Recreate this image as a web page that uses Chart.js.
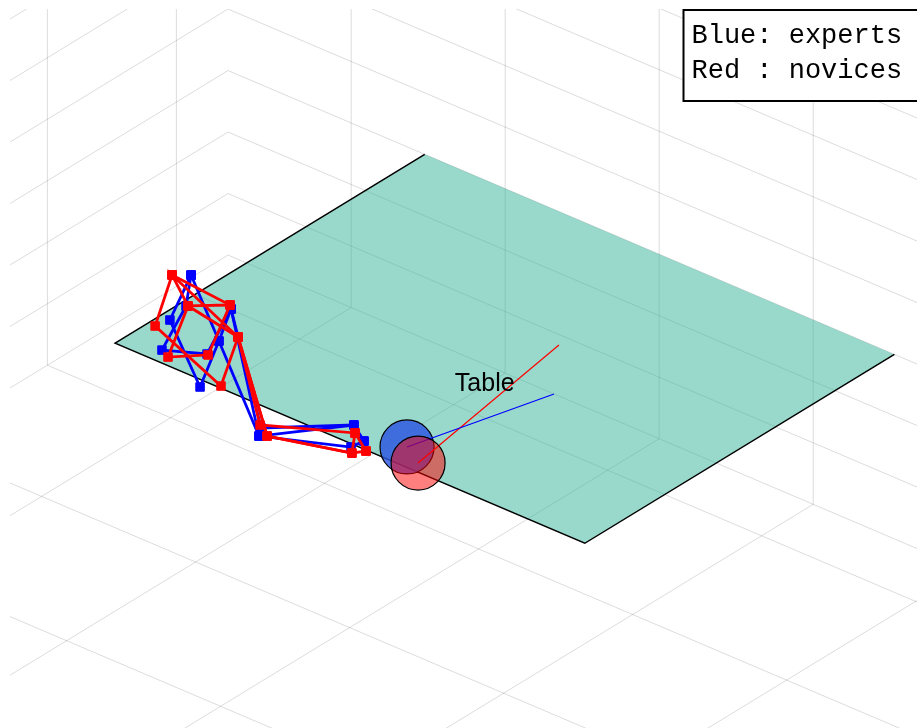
<!DOCTYPE html>
<html>
<head>
<meta charset="utf-8">
<title>Reach paths</title>
<script src="https://cdn.jsdelivr.net/npm/chart.js@4.4.1/dist/chart.umd.min.js"></script>
<style>
  html, body { margin: 0; padding: 0; background: #fff; }
  #scene { display: block; }
</style>
</head>
<body>
<canvas id="scene" width="917" height="728"></canvas>
<script>
// axis ticks and box limits
const xTicks = [1, 2, 3, 4, 5];
const yTicks = [1, 2, 3, 4, 5];
const zTicks = [0, 1, 2, 3, 4, 5, 6, 7, 8, 9];
const xLimits = [0.2, 6];
const yLimits = [0.6, 6];
const zLimits = [0, 9];

// table top
const tableX = [1.67, 4.72];
const tableY = [0.83, 3.23];
const tableZ = 3.5;
const tableLabelAt = [3.385, 2.412, 3.5];

// hand paths, [x, y, z]
const expertTrial1 = [
  [1.726, 2.708, 4], [1.927, 3.112, 4], [2.462, 3.517, 4], [2.246, 3.113, 4],
  [2.092, 2.835, 4], [2.837, 3.491, 3.7], [3.173, 3.173, 3.7], [3.312, 3.261, 3.7]
];
const expertTrial2 = [
  [1.726, 2.708, 4], [1.901, 2.956, 4], [2.085, 3.362, 4], [2.282, 3.248, 4],
  [2.092, 2.835, 4], [2.879, 3.558, 3.7], [3.300, 3.347, 3.7], [3.312, 3.261, 3.7]
];
const expertTrial3 = [
  [1.726, 2.708, 4], [2.246, 3.113, 4], [2.879, 3.558, 3.7], [3.173, 3.173, 3.7]
];
const noviceTrial1 = [
  [1.653, 2.768, 4], [1.908, 3.204, 4], [2.536, 3.443, 4], [2.294, 3.022, 4],
  [2.814, 3.472, 3.7], [3.227, 3.229, 3.7], [3.382, 3.329, 3.7]
];
const noviceTrial2 = [
  [1.653, 2.768, 4], [2.063, 2.808, 4], [2.292, 3.252, 4], [2.152, 3.395, 4],
  [1.908, 2.949, 4], [2.294, 3.022, 4], [2.910, 3.532, 3.7], [3.341, 3.389, 3.7],
  [3.227, 3.229, 3.7]
];
const noviceTrial3 = [
  [2.063, 2.808, 4], [1.908, 2.949, 4], [1.653, 2.768, 4], [2.294, 3.022, 4],
  [2.910, 3.532, 3.7], [3.341, 3.389, 3.7], [3.382, 3.329, 3.7]
];

// ball positions and where each one is aimed
const expertBall = [3.475, 3.122, 3.6];
const noviceBall = [3.618, 3.207, 3.6];
const expertAim = [3.705, 2.257, 3.6];
const noviceAim = [3.417, 1.875, 3.6];

// fixed camera: world units -> screen units
const VIEW = { ox: 274.6, oy: 194.7, xx: 154, xy: 65.6, yx: -129, yy: 78.7, zy: -61.5 };
function project(p) {
  return {
    x: VIEW.ox + VIEW.xx * p[0] + VIEW.yx * p[1],
    y: VIEW.oy + VIEW.xy * p[0] + VIEW.yy * p[1] + VIEW.zy * p[2]
  };
}

const GRID = 'rgba(38, 38, 38, 0.16)';
const datasets = [];

function gridLine(a, b) {
  datasets.push({
    data: [project(a), project(b)],
    showLine: true, borderColor: GRID, borderWidth: 1,
    pointRadius: 0, clip: 0, order: 10
  });
}

const [x0, x1] = xLimits, [y0, y1] = yLimits, [z0, z1] = zLimits;
// back wall along x
zTicks.forEach(z => gridLine([x0, y0, z], [x1, y0, z]));
xTicks.forEach(x => gridLine([x, y0, z0], [x, y0, z1]));
// side wall along y
zTicks.forEach(z => gridLine([x0, y0, z], [x0, y1, z]));
yTicks.forEach(y => gridLine([x0, y, z0], [x0, y, z1]));
// floor
xTicks.forEach(x => gridLine([x, y0, z0], [x, y1, z0]));
yTicks.forEach(y => gridLine([x0, y, z0], [x1, y, z0]));

// table surface and its outline
datasets.push({
  data: [
    [tableX[0], tableY[0], tableZ], [tableX[1], tableY[0], tableZ],
    [tableX[1], tableY[1], tableZ], [tableX[0], tableY[1], tableZ]
  ].map(project),
  showLine: true, fill: 'shape', backgroundColor: 'rgba(51, 179, 153, 0.5)',
  borderWidth: 0, pointRadius: 0, clip: 0, order: 9
});
datasets.push({
  data: [
    [tableX[1], tableY[0], tableZ], [tableX[1], tableY[1], tableZ],
    [tableX[0], tableY[1], tableZ], [tableX[0], tableY[0], tableZ]
  ].map(project),
  showLine: true, borderColor: '#000', borderWidth: 1.5, pointRadius: 0, order: 8
});

function pathSet(trial, color, order) {
  return {
    data: trial.map(project),
    showLine: true, borderColor: color, borderWidth: 2.8,
    pointStyle: 'rect', pointRadius: 6, pointBackgroundColor: color,
    pointBorderColor: color, pointBorderWidth: 1, order: order
  };
}
[expertTrial1, expertTrial2, expertTrial3].forEach(t => datasets.push(pathSet(t, '#0000ff', 7)));
[noviceTrial1, noviceTrial2, noviceTrial3].forEach(t => datasets.push(pathSet(t, '#ff0000', 6)));

function ballSet(pos, fillColor, order) {
  return {
    data: [project(pos)],
    pointStyle: 'circle', pointRadius: 27, pointBackgroundColor: fillColor,
    pointBorderColor: '#000', pointBorderWidth: 1.2, order: order
  };
}
function aimSet(from, to, color) {
  return {
    data: [project(from), project(to)],
    showLine: true, borderColor: color, borderWidth: 1.2, pointRadius: 0, order: 4
  };
}
datasets.push(ballSet(expertBall, 'rgba(45, 85, 225, 0.82)', 5));
datasets.push(aimSet(expertBall, expertAim, '#0000ff'));
datasets.push(aimSet(noviceBall, noviceAim, '#ff0000'));
datasets.push(ballSet(noviceBall, 'rgba(255, 0, 0, 0.5)', 3));

// "Table" label and the legend box
const sceneText = {
  id: 'sceneText',
  afterDatasetsDraw(chart) {
    const { ctx, scales } = chart;
    const p = project(tableLabelAt);
    ctx.save();
    ctx.font = '25px "Liberation Sans", Arial, sans-serif';
    ctx.fillStyle = '#000';
    ctx.textAlign = 'center';
    ctx.textBaseline = 'alphabetic';
    ctx.fillText('Table', scales.x.getPixelForValue(p.x), scales.y.getPixelForValue(p.y));
    ctx.restore();
  },
  afterDraw(chart) {
    const ctx = chart.ctx;
    ctx.save();
    ctx.fillStyle = '#fff';
    ctx.fillRect(683.5, 10, 300, 91);
    ctx.strokeStyle = '#000';
    ctx.lineWidth = 2;
    ctx.strokeRect(683.5, 10, 300, 91);
    ctx.font = '27px "Liberation Mono", monospace';
    ctx.fillStyle = '#000';
    ctx.textBaseline = 'alphabetic';
    ctx.fillText('Blue: experts', 691.5, 43);
    ctx.fillText('Red : novices', 691.5, 77.5);
    ctx.restore();
  }
};

new Chart(document.getElementById('scene'), {
  type: 'scatter',
  data: { datasets: datasets },
  options: {
    responsive: false,
    animation: false,
    events: [],
    layout: { autoPadding: false, padding: { left: 10, top: 9, right: 0, bottom: 0 } },
    plugins: { legend: { display: false }, tooltip: { enabled: false } },
    scales: {
      x: { type: 'linear', display: false, min: 10, max: 917 },
      y: { type: 'linear', display: false, min: 9, max: 728, reverse: true }
    }
  },
  plugins: [sceneText]
});
</script>
</body>
</html>
